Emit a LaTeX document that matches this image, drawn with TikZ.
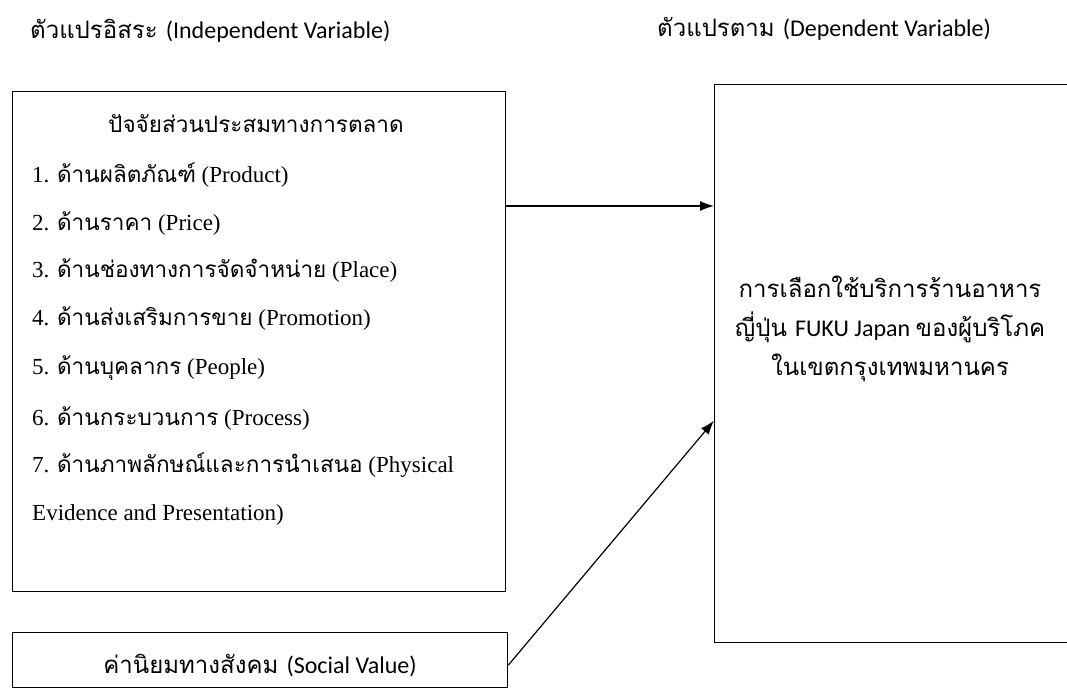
\documentclass[tikz,border=0pt]{standalone}
\usepackage{fontspec}
\usetikzlibrary{arrows.meta}
\setmainfont{Liberation Serif}
\newfontfamily\thaiser[Script=Thai,Scale=0.98]{Loma}
\newfontfamily\thaisans[Script=Thai]{Loma}
\newfontfamily\latsans{Carlito}
\newcommand\thaitxt[1]{{\thaiser #1}}
\newcommand\sanstxt[2]{{\thaisans #1}{\latsans #2}}
\begin{document}
\begin{tikzpicture}[x=1pt,y=-1pt,
  box/.style={draw, line width=1.3pt, inner sep=0pt},
  arr/.style={-{Latex[length=14pt,width=10pt]}, line width=1.2pt},
  listline/.style={anchor=base west, inner sep=0pt, font=\fontsize{23}{28}\selectfont},
  sanslabel/.style={inner sep=0pt, font=\fontsize{24}{28}\selectfont}]
\useasboundingbox (0,0) rectangle (1067,690);
\fill[white] (0,0) rectangle (1067,690);

% boxes
\node[box, minimum width=493pt, minimum height=500pt, anchor=north west] (mix) at (12,91) {};
\node[box, minimum width=495pt, minimum height=55pt, anchor=north west] (social) at (12,632) {};
\node[box, minimum width=420pt, minimum height=558pt, anchor=north west] (dep) at (714,84) {};

% headers
\node[sanslabel, anchor=base west] (h1) at (30,39) {\sanstxt{ตัวแปรอิสระ }{(Independent Variable)}};
\node[sanslabel, anchor=base west] (h2) at (657,37) {\sanstxt{ตัวแปรตาม }{(Dependent Variable)}};

% left box text
\node[listline, anchor=base] (title) at (256,132) {\thaitxt{ปัจจัยส่วนประสมทางการตลาด}};
\node[listline] (l1) at (32,182) {1. \thaitxt{ด้านผลิตภัณฑ์} (Product)};
\node[listline] (l2) at (32,230) {2. \thaitxt{ด้านราคา} (Price)};
\node[listline] (l3) at (32,277) {3. \thaitxt{ด้านช่องทางการจัดจำหน่าย} (Place)};
\node[listline] (l4) at (32,325) {4. \thaitxt{ด้านส่งเสริมการขาย} (Promotion)};
\node[listline] (l5) at (32,374) {5. \thaitxt{ด้านบุคลากร} (People)};
\node[listline] (l6) at (32,425) {6. \thaitxt{ด้านกระบวนการ} (Process)};
\node[listline] (l7) at (32,472) {7. \thaitxt{ด้านภาพลักษณ์และการนำเสนอ} (Physical};
\node[listline] (l8) at (32,520) {Evidence and Presentation)};

% social value text
\node[sanslabel, anchor=base] (sv) at (260,673) {\sanstxt{ค่านิยมทางสังคม }{(Social Value)}};

% dependent text
\node[sanslabel, anchor=base] (d1) at (890,297) {\sanstxt{การเลือกใช้บริการร้านอาหาร}{}};
\node[sanslabel, anchor=base] (d2) at (890,336) {{\thaisans ญี่ปุ่น }{\latsans FUKU Japan }{\thaisans ของผู้บริโภค}};
\node[sanslabel, anchor=base] (d3) at (890,375) {\sanstxt{ในเขตกรุงเทพมหานคร}{}};

% connectors
\coordinate (s1) at ([yshift=-115pt]mix.north east);
\draw[arr] (s1) -- (s1 -| dep.west);
\draw[arr] ([yshift=-5pt]social.east) -- ([yshift=-57pt]dep.west);
\end{tikzpicture}
\end{document}
